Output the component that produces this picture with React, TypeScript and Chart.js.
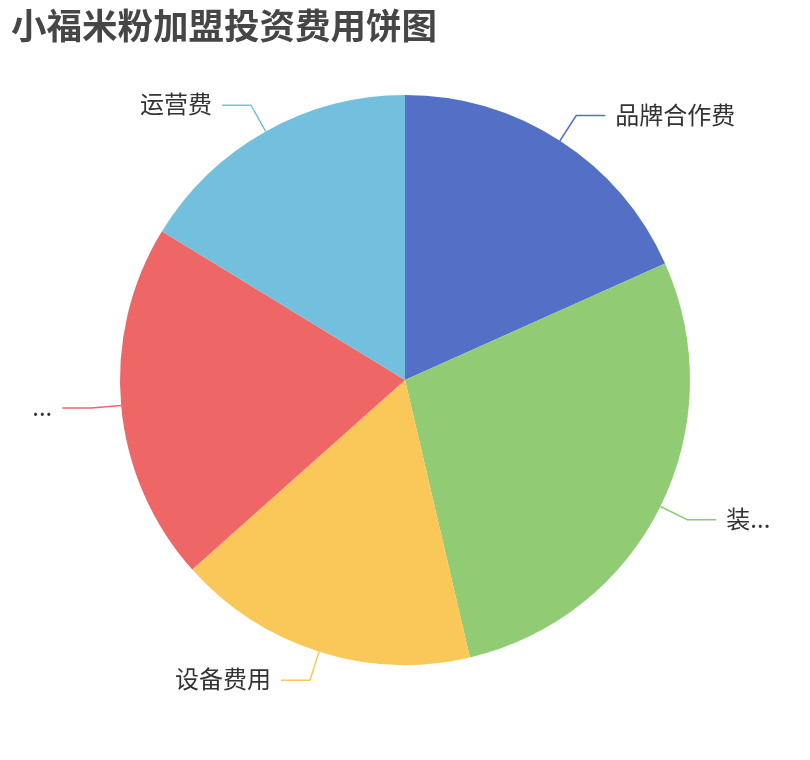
import { useEffect, useRef } from "react";
import { Chart, registerables } from "chart.js";

Chart.register(...registerables);

const title = "小福米粉加盟投资费用饼图";
const categories = ["品牌合作费", "装...", "设备费用", "...", "运营费"];
const values = [4.5, 6.9, 4.2, 5, 4];
const colors = ["#5470c6", "#91cc75", "#fac858", "#ee6666", "#73c0de"];

const FONT = '"Noto Sans CJK SC", "Noto Sans", sans-serif';

// draws the title and the echarts-like outside labels with leader lines
const labelPlugin = {
  id: "pieLabels",
  afterDraw(chart: Chart) {
    const ctx = chart.ctx;
    ctx.save();
    ctx.fillStyle = "#464646";
    ctx.font = `bold 35.5px ${FONT}`;
    ctx.textBaseline = "middle";
    ctx.textAlign = "left";
    ctx.fillText(title, 11, 26);

    const meta = chart.getDatasetMeta(0);
    meta.data.forEach((el: any, i: number) => {
      const { x, y, startAngle, endAngle, outerRadius } = el.getProps(
        ["x", "y", "startAngle", "endAngle", "outerRadius"],
        true
      );
      const mid = (startAngle + endAngle) / 2;
      const cx = Math.cos(mid);
      const cy = Math.sin(mid);
      const p0 = [x + cx * outerRadius, y + cy * outerRadius];
      const p1 = [x + cx * (outerRadius + 30), y + cy * (outerRadius + 30)];
      const right = cx >= 0;
      const p2 = [p1[0] + (right ? 29 : -29), p1[1]];
      ctx.strokeStyle = colors[i];
      ctx.lineWidth = 1.5;
      ctx.beginPath();
      ctx.moveTo(p0[0], p0[1]);
      ctx.lineTo(p1[0], p1[1]);
      ctx.lineTo(p2[0], p2[1]);
      ctx.stroke();
      ctx.fillStyle = "#333";
      ctx.font = `24px ${FONT}`;
      ctx.textAlign = right ? "left" : "right";
      ctx.fillText(categories[i], p2[0] + (right ? 10 : -10), p2[1] - 1);
    });
    ctx.restore();
  },
};

export default function App() {
  const canvasRef = useRef<HTMLCanvasElement>(null);
  const chartRef = useRef<Chart | null>(null);

  useEffect(() => {
    if (!canvasRef.current) return;
    if (chartRef.current) chartRef.current.destroy();
    chartRef.current = new Chart(canvasRef.current, {
      type: "pie",
      data: {
        labels: categories,
        datasets: [
          {
            data: values,
            backgroundColor: colors,
            borderWidth: 0,
          },
        ],
      },
      options: {
        animation: false,
        responsive: false,
        layout: { padding: { left: 120, right: 120, top: 95, bottom: 95 } },
        plugins: {
          legend: { display: false },
          tooltip: { enabled: false },
        },
      },
      plugins: [labelPlugin],
    });
    return () => {
      chartRef.current?.destroy();
      chartRef.current = null;
    };
  }, []);

  return (
    <div style={{ position: "fixed", left: 0, top: 0, width: 810, height: 760, background: "#fff" }}>
      <canvas ref={canvasRef} width={810} height={760} style={{ width: 810, height: 760 }} />
    </div>
  );
}
